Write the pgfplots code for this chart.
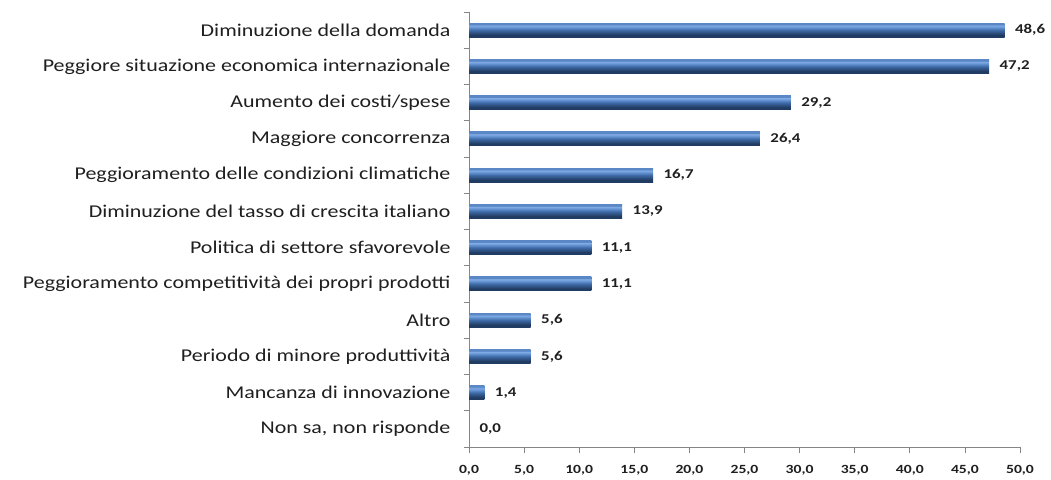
\documentclass[border=0pt]{standalone}
\usepackage{pgfplots}
\pgfplotsset{compat=1.18}
\usepackage{fontspec}
\setmainfont{Carlito}
\newfontfamily\labfont[FakeStretch=1.22]{Carlito}
\newfontfamily\numfont[FakeStretch=1.25]{Carlito}
\definecolor{axgray}{HTML}{868686}
\definecolor{txt}{HTML}{1F1F1F}
\definecolor{bdark}{HTML}{213C62}
\definecolor{bmid}{HTML}{3E6BA8}
\definecolor{blight}{HTML}{6E9CDA}
\definecolor{bhi}{HTML}{84AEE5}
\definecolor{btop}{HTML}{5A87C6}
\pgfdeclareverticalshading{barshade}{100bp}{color(0bp)=(bdark); color(33bp)=(bdark); color(50bp)=(bmid); color(62bp)=(blight); color(67bp)=(bhi); color(70bp)=(btop); color(100bp)=(btop)}
\begin{document}
\begin{tikzpicture}
\path[use as bounding box] (0,0) rectangle (1051pt,479pt);
\begin{axis}[
  at={(469pt,32pt)}, anchor=south west,
  width=551pt, height=435pt, scale only axis,
  xbar, bar width=0.38,
  xmin=0, xmax=50, ymin=-0.5, ymax=11.5,
  y dir=reverse,
  axis x line*=bottom, axis y line*=left,
  axis line style={axgray, line width=0.8pt},
  xtick={0,5,...,50},
  xticklabel style={font=\numfont\fontsize{12.5}{14}\selectfont\bfseries, text=txt, yshift=-9pt},
  /pgf/number format/assume math mode=true,
  xticklabel={\pgfmathprintnumber[fixed,fixed zerofill,precision=1,use comma]{\tick}},
  ytick={-0.5,0.5,...,11.5},
  yticklabels={},
  extra y ticks={0,1,2,3,4,5,6,7,8,9,10,11},
  extra y tick labels={Diminuzione della domanda,Peggiore situazione economica internazionale,Aumento dei costi/spese,Maggiore concorrenza,Peggioramento delle condizioni climatiche,Diminuzione del tasso di crescita italiano,Politica di settore sfavorevole,Peggioramento competitività dei propri prodotti,Altro,Periodo di minore produttività,Mancanza di innovazione,{Non sa, non risponde}},
  extra y tick style={major tick length=0pt, tick style={draw=none},
    yticklabel style={font=\labfont\fontsize{18}{20}\selectfont, text=txt, xshift=-15pt}},
  tick style={axgray, line width=0.8pt},
  tick align=outside,
  major tick length=5.5pt,
  nodes near coords,
  nodes near coords style={font=\numfont\fontsize{13.5}{16}\selectfont\bfseries, text=txt, anchor=west, xshift=7pt},
  every node near coord/.append style={/pgf/number format/.cd, fixed, fixed zerofill, precision=1, use comma, assume math mode=true},
  clip=false,
  mybar/.style={bar shift=0pt, draw=none, shading=barshade},
]
\addplot[mybar] coordinates {(48.6,0)};
\addplot[mybar] coordinates {(47.2,1)};
\addplot[mybar] coordinates {(29.2,2)};
\addplot[mybar] coordinates {(26.4,3)};
\addplot[mybar] coordinates {(16.7,4)};
\addplot[mybar] coordinates {(13.9,5)};
\addplot[mybar] coordinates {(11.1,6)};
\addplot[mybar] coordinates {(11.1,7)};
\addplot[mybar] coordinates {(5.6,8)};
\addplot[mybar] coordinates {(5.6,9)};
\addplot[mybar] coordinates {(1.4,10)};
\addplot[mybar] coordinates {(0.0,11)};
\end{axis}
\end{tikzpicture}
\end{document}
